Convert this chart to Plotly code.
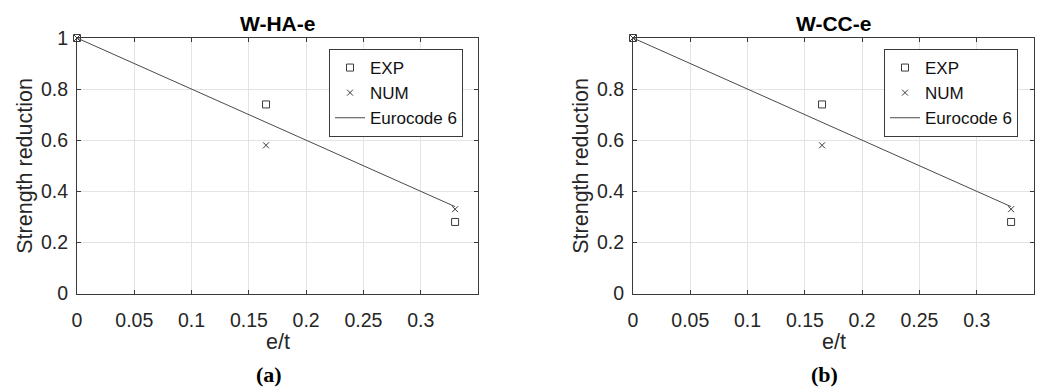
import plotly.graph_objects as go

W, H = 1038, 387

# data
et = [0, 0.165, 0.33]
exp_vals = [1.0, 0.74, 0.28]
num_vals = [1.0, 0.58, 0.33]
ec6_x = [0, 0.33]
ec6_y = [1.0, 0.34]

titles = ["W-HA-e", "W-CC-e"]
panel_labels = ["(a)", "(b)"]
x_ticks = [0, 0.05, 0.1, 0.15, 0.2, 0.25, 0.3]
x_ticktext = ["0", "0.05", "0.1", "0.15", "0.2", "0.25", "0.3"]
y_ticks_a = [0, 0.2, 0.4, 0.6, 0.8, 1.0]
y_ticktext_a = ["0", "0.2", "0.4", "0.6", "0.8", "1"]
y_ticks_b = [0, 0.2, 0.4, 0.6, 0.8]
y_ticktext_b = ["0", "0.2", "0.4", "0.6", "0.8"]

FONT = "Liberation Sans, Arial, Helvetica, sans-serif"
TXT = "#262626"
MK = "#3a3a3a"

# pixel layout
px_left = [77, 633]
px_right = [478, 1034]
px_top = 38
px_bot = 293.5

fig = go.Figure()

for i in range(2):
    xa = "x" if i == 0 else "x2"
    ya = "y" if i == 0 else "y2"
    lg = "legend" if i == 0 else "legend2"
    fig.add_trace(go.Scatter(x=et, y=exp_vals, mode="markers", name="EXP",
                             marker=dict(symbol="square-open", size=7, color=MK, line=dict(width=1, color=MK)),
                             xaxis=xa, yaxis=ya, legend=lg, cliponaxis=False))
    fig.add_trace(go.Scatter(x=et, y=num_vals, mode="markers", name="NUM",
                             marker=dict(symbol="x-thin-open", size=6, color=MK, line=dict(width=1, color=MK)),
                             xaxis=xa, yaxis=ya, legend=lg, cliponaxis=False))
    fig.add_trace(go.Scatter(x=ec6_x, y=ec6_y, mode="lines", name="Eurocode 6",
                             line=dict(color="#4a4a4a", width=1),
                             xaxis=xa, yaxis=ya, legend=lg))

ydom = [(H - px_bot) / H, (H - px_top) / H]

axis_common = dict(
    showgrid=True, gridcolor="#e3e3e3", gridwidth=1,
    zeroline=False, showline=True, linecolor="#3a3a3a", linewidth=1,
    mirror="ticks", ticks="inside", ticklen=4, tickcolor="#3a3a3a",
    tickfont=dict(family=FONT, size=19.5, color=TXT),
    automargin=False,
)

layout = dict(
    template="none",
    width=W, height=H,
    margin=dict(l=0, r=0, t=0, b=0, pad=0, autoexpand=False),
    paper_bgcolor="white", plot_bgcolor="white",
    font=dict(family=FONT, color=TXT),
    xaxis=dict(domain=[px_left[0] / W, px_right[0] / W], range=[0, 0.35],
               tickvals=x_ticks, ticktext=x_ticktext, anchor="y",
               ticklabelstandoff=9, **axis_common),
    yaxis=dict(domain=ydom, range=[0, 1], tickvals=y_ticks_a, ticktext=y_ticktext_a,
               anchor="x", ticklabelstandoff=4, **axis_common),
    xaxis2=dict(domain=[px_left[1] / W, px_right[1] / W], range=[0, 0.35],
                tickvals=x_ticks, ticktext=x_ticktext, anchor="y2",
                ticklabelstandoff=9, **axis_common),
    yaxis2=dict(domain=ydom, range=[0, 1], tickvals=y_ticks_b, ticktext=y_ticktext_b,
                anchor="x2", ticklabelstandoff=4, **axis_common),
    showlegend=True,
)

leg_common = dict(
    xanchor="left", yanchor="top",
    bgcolor="white", bordercolor="#3a3a3a", borderwidth=1,
    font=dict(family=FONT, size=17, color="#111111"),
    tracegroupgap=0, itemwidth=30,
)
layout["legend"] = dict(x=329 / W, y=(H - 49) / H, **leg_common)
layout["legend2"] = dict(x=884 / W, y=(H - 49) / H, **leg_common)

fig.update_layout(**layout)

annotations = []
for i in range(2):
    cx = (px_left[i] + px_right[i]) / 2
    annotations.append(dict(text="<b>" + titles[i] + "</b>", x=cx / W, y=(H - 23.5) / H,
                            xref="paper", yref="paper", showarrow=False,
                            xanchor="center", yanchor="middle",
                            font=dict(family=FONT, size=21, color="#000000")))
    annotations.append(dict(text="e/t", x=cx / W, y=(H - 342) / H,
                            xref="paper", yref="paper", showarrow=False,
                            xanchor="center", yanchor="middle",
                            font=dict(family=FONT, size=21.5, color=TXT)))
    annotations.append(dict(text="Strength reduction", x=(px_left[i] - 52) / W,
                            y=(H - (px_top + px_bot) / 2) / H,
                            xref="paper", yref="paper", showarrow=False, textangle=-90,
                            xanchor="center", yanchor="middle",
                            font=dict(family=FONT, size=21.5, color=TXT)))
    annotations.append(dict(text="<b>" + panel_labels[i] + "</b>", x=(cx - 9) / W, y=(H - 374) / H,
                            xref="paper", yref="paper", showarrow=False,
                            xanchor="center", yanchor="middle",
                            font=dict(family="Liberation Serif, Times New Roman, serif", size=22, color="#000000")))
fig.update_layout(annotations=annotations)

fig.write_html("out.html")
